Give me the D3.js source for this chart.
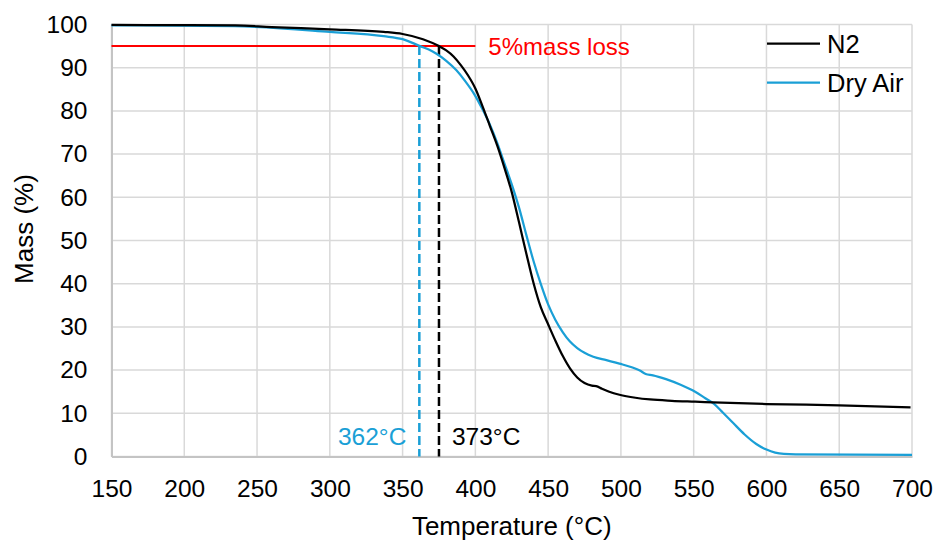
<!DOCTYPE html>
<html>
<head>
<meta charset="utf-8">
<script src="https://cdnjs.cloudflare.com/ajax/libs/d3/7.8.5/d3.min.js"></script>
<style>
    body { margin: 0; background: #fff; }
    text { font-family: "Liberation Sans", Arial, sans-serif; fill: #000; }
</style>
</head>
<body>
<div id="vis"></div>
<script>
// temperature (C) of each reading
var n2Temp = [150, 200, 235, 260, 300, 337, 350, 364, 375, 380, 385, 390, 395, 400, 405, 410, 415, 420, 425, 430, 435, 440, 445, 450, 455, 460, 465, 470, 475, 480, 483, 487, 492, 499, 510, 520, 535, 551, 575, 600, 650, 699];
var n2Mass = [99.9, 99.85, 99.8, 99.4, 98.9, 98.3, 97.8, 96.6, 95, 94.0, 92.6, 90.6, 88.2, 85.2, 81.0, 76.5, 72.0, 66.8, 61.2, 54.2, 47, 40.1, 34.5, 30.6, 26.8, 23.3, 20.4, 18.3, 17.0, 16.4, 16.3, 15.7, 15.0, 14.3, 13.6, 13.2, 12.9, 12.7, 12.4, 12.15, 11.85, 11.4];

var airTemp = [150, 234, 300, 337, 350, 362, 368, 373, 380, 387, 393, 399, 405, 410, 415, 420, 425, 430, 435, 440, 445, 450, 455, 460, 465, 470, 475, 481, 490, 499, 508, 513, 517, 522, 531, 541, 551, 558, 564, 570, 577, 585, 593, 600, 606, 612, 620, 700];
var airMass = [99.8, 99.6, 98.3, 97.3, 96.6, 95, 94.2, 93.3, 91.6, 89.4, 86.9, 84.0, 80.3, 76.8, 72.6, 67.8, 63.0, 57.6, 51.3, 45.2, 39.9, 35.2, 31.6, 28.8, 26.6, 25.1, 24.0, 23.1, 22.3, 21.5, 20.6, 19.9, 19.1, 18.8, 17.9, 16.6, 15.0, 13.5, 12.2, 10.2, 7.8, 5.1, 2.9, 1.6, 0.9, 0.6, 0.5, 0.4];

var xTicks = [150, 200, 250, 300, 350, 400, 450, 500, 550, 600, 650, 700];
var yTicks = [0, 10, 20, 30, 40, 50, 60, 70, 80, 90, 100];

var seriesNames = ['N2', 'Dry Air'];
var seriesColors = ['#000000', '#1a9fd6'];

var lossLevel = 95;
var lossEnd = 400;
var lossLabel = '5%mass loss';
var onsetTemps = [361.5, 375];
var onsetLabels = ['362°C', '373°C'];

var margin = {
    left: 111.5,
    top: 24.5,
    right: 24,
    bottom: 84.5
};

var width = 936;
var height = 541;
var drawWidth = width - margin.left - margin.right;
var drawHeight = height - margin.top - margin.bottom;

var svg = d3.select('#vis')
    .append('svg')
    .attr('width', width)
    .attr('height', height);

var g = svg.append('g')
    .attr('transform', 'translate(' + margin.left + ',' + margin.top + ')');

var xScale = d3.scaleLinear().domain([150, 700]).range([0, drawWidth]);
var yScale = d3.scaleLinear().domain([0, 100]).range([drawHeight, 0]);

// grid
g.selectAll('.vgrid').data(xTicks).enter().append('line')
    .attr('x1', function(d) { return xScale(d); })
    .attr('x2', function(d) { return xScale(d); })
    .attr('y1', 0)
    .attr('y2', drawHeight)
    .attr('stroke', '#d9d9d9')
    .attr('stroke-width', 1.5);

g.selectAll('.hgrid').data(yTicks).enter().append('line')
    .attr('x1', 0)
    .attr('x2', drawWidth)
    .attr('y1', function(d) { return yScale(d); })
    .attr('y2', function(d) { return yScale(d); })
    .attr('stroke', '#d9d9d9')
    .attr('stroke-width', 1.5);

// axes
var xAxis = d3.axisBottom(xScale).tickValues(xTicks).tickSize(0).tickPadding(23);
var yAxis = d3.axisLeft(yScale).tickValues(yTicks).tickSize(0).tickPadding(24);

var xAxisG = g.append('g')
    .attr('transform', 'translate(0,' + drawHeight + ')')
    .call(xAxis);
var yAxisG = g.append('g').call(yAxis);

[xAxisG, yAxisG].forEach(function(a) {
    a.select('.domain').attr('stroke', '#c4c4c4').attr('stroke-width', 2);
    a.selectAll('text')
        .style('font-family', '"Liberation Sans", Arial, sans-serif')
        .style('font-size', '24.5px')
        .attr('fill', '#000');
});

// 5% loss line
g.append('line')
    .attr('x1', xScale(150))
    .attr('x2', xScale(lossEnd))
    .attr('y1', yScale(lossLevel))
    .attr('y2', yScale(lossLevel))
    .attr('stroke', '#ff0000')
    .attr('stroke-width', 2);

g.append('text')
    .attr('x', xScale(lossEnd) + 13)
    .attr('y', yScale(lossLevel) + 9)
    .style('font-size', '24px')
    .style('fill', '#ff0000')
    .text(lossLabel);

// onset markers
g.selectAll('.onset').data(onsetTemps).enter().append('line')
    .attr('x1', function(d) { return xScale(d); })
    .attr('x2', function(d) { return xScale(d); })
    .attr('y1', yScale(lossLevel))
    .attr('y2', drawHeight)
    .attr('stroke', function(d, i) { return seriesColors[1 - i]; })
    .attr('stroke-width', 2.5)
    .attr('stroke-dasharray', '9,4');

g.append('text')
    .attr('x', xScale(onsetTemps[0]) - 13)
    .attr('y', drawHeight - 11.5)
    .attr('text-anchor', 'end')
    .style('font-size', '24.5px')
    .style('fill', seriesColors[1])
    .text(onsetLabels[0]);

g.append('text')
    .attr('x', xScale(onsetTemps[1]) + 13)
    .attr('y', drawHeight - 11.5)
    .style('font-size', '24.5px')
    .style('fill', seriesColors[0])
    .text(onsetLabels[1]);

// curves
var line = d3.line()
    .x(function(d) { return xScale(d[0]); })
    .y(function(d) { return yScale(d[1]); })
    .curve(d3.curveMonotoneX);

var n2Data = d3.zip(n2Temp, n2Mass);
var airData = d3.zip(airTemp, airMass);

g.append('path')
    .datum(airData)
    .attr('d', line)
    .attr('fill', 'none')
    .attr('stroke', seriesColors[1])
    .attr('stroke-width', 2.25);

g.append('path')
    .datum(n2Data)
    .attr('d', line)
    .attr('fill', 'none')
    .attr('stroke', seriesColors[0])
    .attr('stroke-width', 2.25);

// axis titles
svg.append('text')
    .attr('x', margin.left + drawWidth / 2)
    .attr('y', 535)
    .attr('text-anchor', 'middle')
    .style('font-size', '26px')
    .text('Temperature (°C)');

svg.append('text')
    .attr('transform', 'translate(33,229) rotate(-90)')
    .attr('text-anchor', 'middle')
    .style('font-size', '26px')
    .text('Mass (%)');

// legend
var legend = svg.selectAll('.legend').data(seriesNames).enter().append('g')
    .attr('transform', function(d, i) { return 'translate(767,' + (43.5 + i * 39) + ')'; });

legend.append('line')
    .attr('x1', 0)
    .attr('x2', 53)
    .attr('stroke', function(d, i) { return seriesColors[i]; })
    .attr('stroke-width', 2.25);

legend.append('text')
    .attr('x', 60)
    .attr('y', 9)
    .style('font-size', '25.5px')
    .text(function(d) { return d; });
</script>
</body>
</html>
